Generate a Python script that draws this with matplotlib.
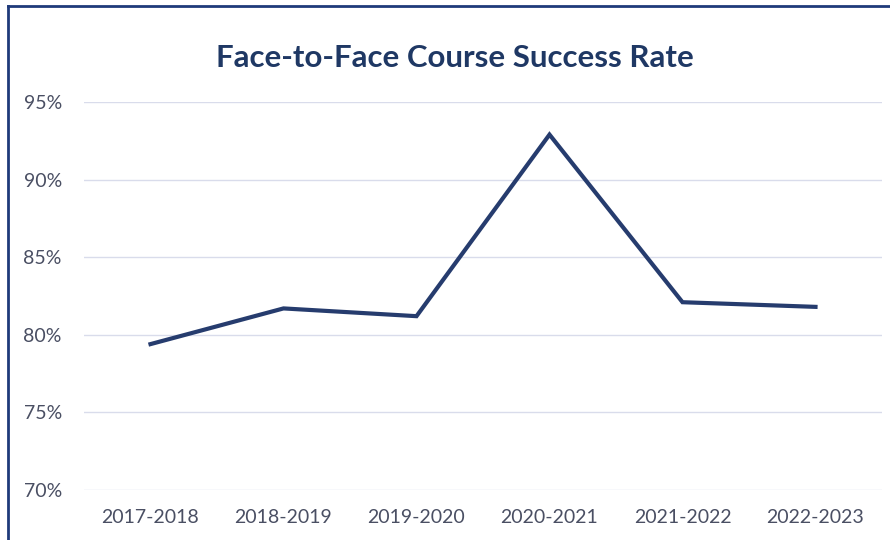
import matplotlib.pyplot as plt
from matplotlib.lines import Line2D
from matplotlib.ticker import FuncFormatter

years = ["2017-2018", "2018-2019", "2019-2020", "2020-2021", "2021-2022", "2022-2023"]
success_rate = [79.4, 81.7, 81.2, 92.9, 82.1, 81.8]
yticks = [70, 75, 80, 85, 90, 95]

plt.rcParams['font.family'] = ['Lato', 'DejaVu Sans']

fig = plt.figure(figsize=(8.9, 5.4), dpi=100)
ax = fig.add_axes([84/890, 50/540, 798/890, 388/540])

x = range(len(years))
ax.plot(x, success_rate, color="#263C6E", lw=3, solid_joinstyle="miter")

ax.set_xlim(-0.5, len(years) - 0.5)
ax.set_ylim(70, 95)
ax.set_yticks(yticks)
ax.yaxis.set_major_formatter(FuncFormatter(lambda v, p: f"{v:.0f}%"))
ax.set_xticks(list(x))
ax.set_xticklabels(years)
ax.grid(axis="y", color="#D9DCEB", lw=1)
ax.set_axisbelow(True)
for s in ax.spines.values():
    s.set_visible(False)
ax.tick_params(length=0, labelsize=14, labelcolor="#4A4F63")
ax.tick_params(axis="y", pad=16)
ax.tick_params(axis="x", pad=14)

fig.text(455/890, 1 - 58/540, "Face-to-Face Course Success Rate", ha="center", va="center",
         fontsize=22.5, fontweight="bold", color="#1F3864")

# frame lines on left and top
fig.add_artist(Line2D([8/890, 8/890], [0, 1 - 6/540], color="#1F3A7A", lw=2, transform=fig.transFigure))
fig.add_artist(Line2D([8/890, 1], [1 - 6/540, 1 - 6/540], color="#1F3A7A", lw=2, transform=fig.transFigure))

fig.savefig("out.png", dpi=100)
